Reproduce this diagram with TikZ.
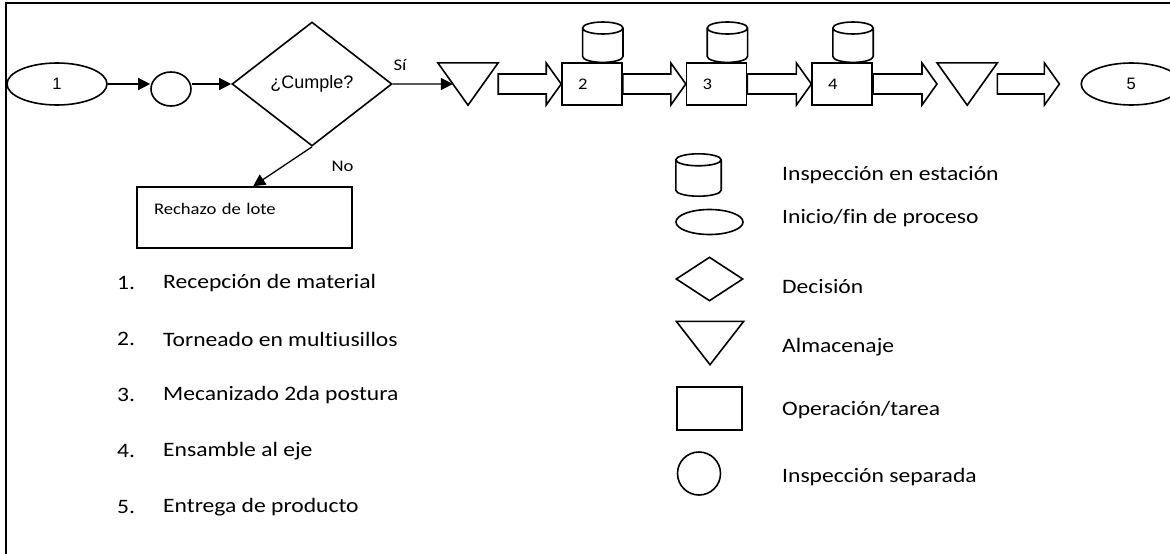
\documentclass[tikz,border=0pt]{standalone}
\usepackage{fontspec}
\setmainfont{Carlito}[FakeStretch=1.15,Ligatures=NoCommon]
\newfontfamily\arial{Liberation Sans}
\usetikzlibrary{shapes.geometric,arrows.meta,positioning,calc}
\tikzstyle{forma}=[draw=black,line width=1.6pt]
\tikzstyle{inicio}=[ellipse,forma,inner sep=0pt,minimum width=100pt,minimum height=42pt,font=\arial\fontsize{16.5}{18}\selectfont]
\tikzstyle{inspeccion}=[ellipse,forma,inner sep=0pt]
\tikzstyle{decision}=[diamond,forma,inner sep=0pt]
\tikzstyle{operacion}=[rectangle,forma,inner ysep=0pt,inner xsep=16pt,text width=28pt,align=left,minimum height=42pt,font=\fontsize{16.2}{18}\selectfont]
\tikzstyle{almacen}=[rectangle,inner sep=0pt,minimum width=60pt,minimum height=42pt]
\tikzstyle{estacion}=[rectangle,inner sep=0pt,minimum width=40pt,minimum height=40pt]
\tikzstyle{rechazo}=[rectangle,forma,inner ysep=0pt,inner xsep=17pt,text width=181pt,align=left,minimum height=61pt,text height=12pt,text depth=19pt,font=\fontsize{16.2}{18}\selectfont]
\tikzstyle{etiqueta}=[font=\fontsize{16.2}{18}\selectfont]
\tikzstyle{texto}=[anchor=west,inner sep=0pt,font=\fontsize{20.5}{24}\selectfont]
\tikzstyle{flujo}=[-{Triangle[length=12pt,width=12pt]},line width=1.3pt]
% flecha de bloque entre dos nodos
\newcommand{\bloque}[3][0pt]{%
  \draw[forma] let \p1=(#2.east), \p2=(#3.west) in
    (\x1,\y1+10pt) -- (\x2-#1-15pt,\y1+10pt) -- (\x2-#1-15pt,\y1+21pt) -- (\x2-#1,\y1)
    -- (\x2-#1-15pt,\y1-21pt) -- (\x2-#1-15pt,\y1-10pt) -- (\x1,\y1-10pt) -- cycle;}
% cilindro dentro de un nodo
\newcommand{\cilindro}[1]{%
  \draw[forma] let \p1=(#1.north west), \p2=(#1.south east), \n1={(\x2-\x1)/2} in
    (\x1,\y1-6pt) -- (\x1,\y2+6pt) arc[start angle=180,end angle=360,x radius=\n1,y radius=6pt]
    -- (\x2,\y1-6pt) arc[start angle=0,end angle=360,x radius=\n1,y radius=6pt];}
\begin{document}
\begin{tikzpicture}[x=1pt,y=-1pt]
  \useasboundingbox (0,0) rectangle (1170,554);
  \draw[line width=1.5pt] (6,554) -- (6,3) -- (1170,3);

  % Proceso
  \node[inicio] (ini) at (57,84) {1};
  \node[inspeccion, minimum width=40pt, minimum height=34pt] (insp) at (171,89) {};
  \node[decision, minimum width=160pt, minimum height=124pt, font=\arial\fontsize{18}{20}\selectfont] (dec) at (312,84) {¿Cumple?};
  \node[almacen] (alm1) at (468,84) {};
  \node[operacion] (op2) [right=63pt of alm1] {2};
  \node[operacion] (op3) [right=63pt of op2] {3};
  \node[operacion] (op4) [right=64pt of op3] {4};
  \node[almacen] (alm2) [right=64pt of op4] {};
  \node[inicio] (fin) [right=83pt of alm2] {5};
  \node[rechazo] (rech) at (244.5,217.5) {Rechazo de lote};
  \foreach \o in {op2,op3,op4}
    \node[estacion] (cil-\o) at ($(\o.north east)+(-20pt,20pt)$) {};

  % Leyenda
  \node[estacion, minimum width=45pt, minimum height=42pt] (leyCil) at (698.5,175) {};
  \node[inspeccion, minimum width=67pt, minimum height=25pt] (leyIni) at (709.5,222) {};
  \node[decision, minimum width=67pt, minimum height=44pt] (leyDec) at (709.5,279) {};
  \node[almacen, minimum width=67pt, minimum height=43pt] (leyAlm) at (710,343) {};
  \node[operacion, minimum width=65pt, minimum height=43pt] (leyOp) at (709.5,408.5) {};
  \node[inspeccion, minimum size=43pt] (leySep) at (699,473.5) {};
  \node[texto] (txtCil) at (782,175) {Inspección en estación};
  \node[texto] (txtIni) at (782,218) {Inicio/fin de proceso};
  \node[texto] (txtDec) at (782,287) {Decisión};
  \node[texto] (txtAlm) at (782,347) {Almacenaje};
  \node[texto] (txtOp) at (782,410) {Operación/tarea};
  \node[texto] (txtSep) at (782,477) {Inspección separada};

  % Almacenaje y cilindros
  \foreach \a in {alm1,alm2,leyAlm}
    \draw[forma] (\a.north west) -- (\a.north east) -- (\a.south) -- cycle;
  \foreach \c in {cil-op2,cil-op3,cil-op4,leyCil} {\cilindro{\c}}

  % Conexiones
  \draw[flujo] (ini.east) -- (insp.west |- ini.east);
  \draw[flujo] (insp.east |- dec.west) -- (dec.west);
  \draw[flujo] (dec.east) -- node[etiqueta, pos=0.12, above=9pt] {Sí} ($(alm1.north west)!0.5!(alm1.south)$);
  \draw[flujo] (dec.south) -- node[etiqueta, pos=0.5, xshift=60pt] {No} ($(rech.north west)!0.54!(rech.north east)$);
  \bloque{alm1}{op2}
  \bloque{op2}{op3}
  \bloque{op3}{op4}
  \bloque{op4}{alm2}
  \bloque[21pt]{alm2}{fin}

  % Pasos
  \foreach \n/\t in {1/Recepción de material,2/Torneado en multiusillos,3/Mecanizado 2da postura,4/Ensamble al eje,5/Entrega de producto} {
    \node[texto] (num\n) at (117,227+56*\n) {\n.};
    \node[texto] (paso\n) at (163,227+56*\n) {\t};
  }
\end{tikzpicture}
\end{document}
